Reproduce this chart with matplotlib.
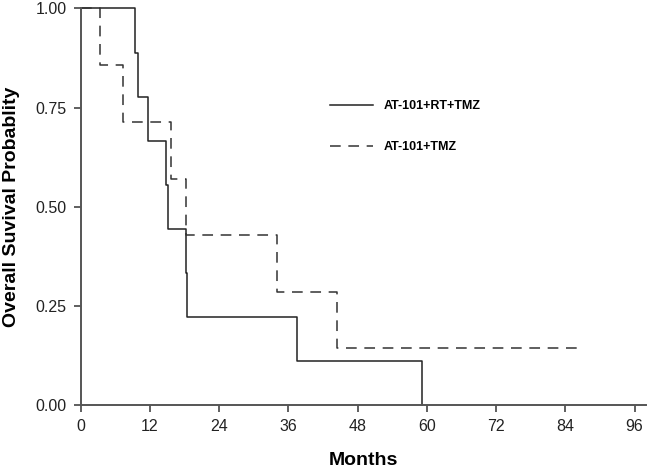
import matplotlib
matplotlib.use("Agg")
import matplotlib.pyplot as plt

plt.rcParams["font.family"] = ["Liberation Sans", "DejaVu Sans"]

# Kaplan-Meier estimates
rt_months = [0, 9.4, 10.0, 11.7, 14.8, 15.1, 18.2, 18.5, 37.5, 59.2]
rt_surv = [1.0, 0.889, 0.778, 0.667, 0.556, 0.444, 0.333, 0.222, 0.111, 0.0]

tmz_months = [0, 3.4, 7.4, 15.6, 18.2, 34.1, 44.4, 87.0]
tmz_surv = [1.0, 0.857, 0.714, 0.571, 0.429, 0.286, 0.143, 0.143]

labels = ["AT-101+RT+TMZ", "AT-101+TMZ"]
x_ticks = [0, 12, 24, 36, 48, 60, 72, 84, 96]
y_ticks = [0.0, 0.25, 0.5, 0.75, 1.0]

fig = plt.figure(figsize=(6.5, 4.72), dpi=100)
ax = fig.add_axes([0.124, 0.142, 0.87, 0.840])

ax.step(rt_months, rt_surv, where="post", color="#222222", lw=1.1,
        label=labels[0], clip_on=False)
ax.step(tmz_months, tmz_surv, where="post", color="#333333", lw=1.1,
        dashes=(7, 5), label=labels[1], clip_on=False)

ax.set_xlim(0, 98)
ax.set_ylim(0, 1.0)
ax.set_xticks(x_ticks)
ax.set_yticks(y_ticks)
ax.set_yticklabels([f"{v:.2f}" for v in y_ticks])

for side in ["top", "right"]:
    ax.spines[side].set_visible(False)
for side in ["left", "bottom"]:
    ax.spines[side].set_color("#555555")
    ax.spines[side].set_linewidth(1.4)

ax.tick_params(axis="both", direction="out", length=5, width=1.2,
               color="#444444", labelsize=11.5, labelcolor="#222222", pad=5)

ax.set_xlabel("Months", fontsize=14, fontweight="bold", labelpad=13)
ax.set_ylabel("Overall Suvival Probablity", fontsize=14, fontweight="bold",
              labelpad=11)

leg = ax.legend(loc="upper left", bbox_to_anchor=(0.43, 0.785), frameon=False,
                handlelength=3.4, handletextpad=0.9, labelspacing=2.35,
                borderpad=0, prop={"weight": "bold", "size": 9})

plt.savefig("out.png", dpi=100)
